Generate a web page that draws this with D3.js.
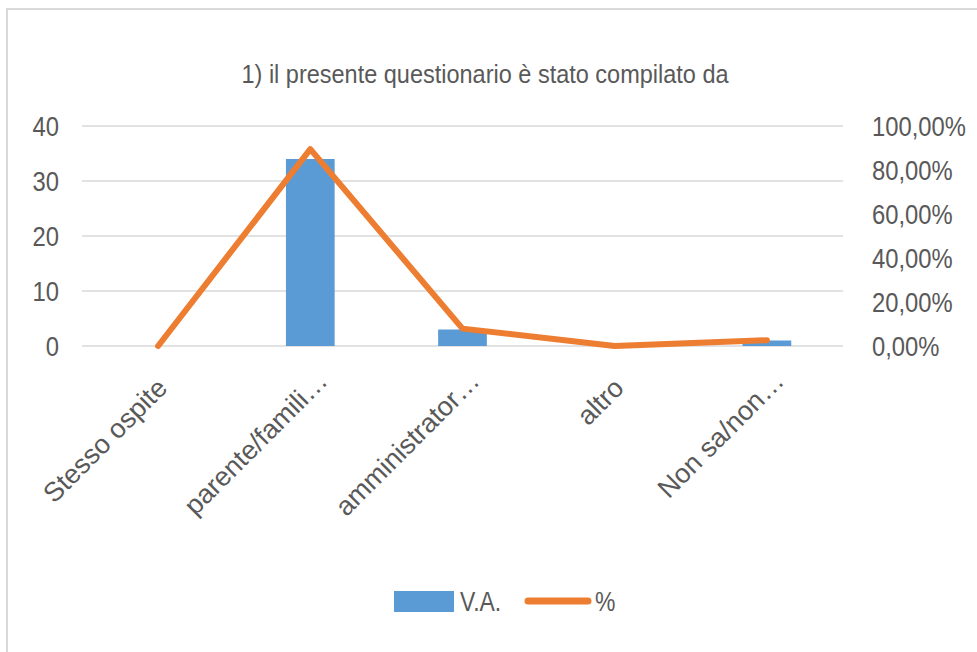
<!DOCTYPE html>
<html>
<head>
<meta charset="utf-8">
<script src="https://cdn.jsdelivr.net/npm/d3@7"></script>
<style>
  body { margin: 0; background: #fff; }
  svg text { font-family: "Liberation Sans", Arial, sans-serif; fill: #595959; }
</style>
</head>
<body>
<div id="chart"></div>
<script>
const categories = [`Stesso ospite`, `parente/famili…`, `amministrator…`, `altro`, `Non sa/non…`];
const vaValues = [0, 34, 3, 0, 1];
const pctValues = [0, 0.8947, 0.0789, 0, 0.0263];
const leftTicks = [0, 10, 20, 30, 40];
const rightTicks = [0, 0.2, 0.4, 0.6, 0.8, 1];
const title = `1) il presente questionario è stato compilato da`;

const width = 977;
const height = 652;
const plot = { left: 82, right: 843, top: 126, bottom: 346 };
const squeeze = 0.85; // the source font is condensed

const svg = d3
  .select(`#chart`)
  .append(`svg`)
  .attr(`width`, width)
  .attr(`height`, height);

// chart frame (runs past the window on right/bottom)
svg
  .append(`rect`)
  .attr(`x`, 7)
  .attr(`y`, 9)
  .attr(`width`, width + 20)
  .attr(`height`, height + 20)
  .attr(`fill`, `none`)
  .attr(`stroke`, `#D9D9D9`)
  .attr(`stroke-width`, 2);

svg
  .append(`text`)
  .attr(`transform`, `translate(485, 83) scale(0.94, 1)`)
  .attr(`text-anchor`, `middle`)
  .style(`font-size`, `25px`)
  .text(title);

const x = d3
  .scaleBand()
  .domain(categories)
  .range([plot.left, plot.right])
  .paddingInner(0.68)
  .paddingOuter(0.34);

const yLeft = d3.scaleLinear().domain([0, 40]).range([plot.bottom, plot.top]);
const yRight = d3.scaleLinear().domain([0, 1]).range([plot.bottom, plot.top]);

// gridlines
svg
  .append(`g`)
  .selectAll(`line`)
  .data(leftTicks)
  .enter()
  .append(`line`)
  .attr(`x1`, plot.left)
  .attr(`x2`, plot.right)
  .attr(`y1`, (d) => yLeft(d))
  .attr(`y2`, (d) => yLeft(d))
  .attr(`stroke`, `#D9D9D9`)
  .attr(`stroke-width`, 1.5);

// left axis
const leftAxis = svg
  .append(`g`)
  .attr(`transform`, `translate(${plot.left - 23}, 0)`)
  .call(d3.axisLeft(yLeft).tickValues(leftTicks).tickSize(0).tickPadding(0));
leftAxis.select(`.domain`).remove();
leftAxis
  .selectAll(`text`)
  .attr(`dy`, `0.35em`)
  .attr(`transform`, `scale(${squeeze}, 1)`)
  .style(`font-size`, `28px`)
  .attr(`fill`, `#595959`);

// right axis
const fmtPct = (d) => d3.format(`.2f`)(d * 100).replace(`.`, `,`) + `%`;
const rightAxis = svg
  .append(`g`)
  .attr(`transform`, `translate(${plot.right + 29}, 0)`)
  .call(
    d3.axisRight(yRight).tickValues(rightTicks).tickFormat(fmtPct).tickSize(0).tickPadding(0)
  );
rightAxis.select(`.domain`).remove();
rightAxis
  .selectAll(`text`)
  .attr(`dy`, `0.35em`)
  .attr(`transform`, `scale(${squeeze}, 1)`)
  .style(`font-size`, `28px`)
  .attr(`fill`, `#595959`);

// bars
svg
  .append(`g`)
  .selectAll(`rect`)
  .data(vaValues)
  .enter()
  .append(`rect`)
  .attr(`x`, (d, i) => x(categories[i]))
  .attr(`width`, x.bandwidth())
  .attr(`y`, (d) => yLeft(d))
  .attr(`height`, (d) => plot.bottom - yLeft(d))
  .attr(`fill`, `#5B9BD5`);

// percent line
const line = d3
  .line()
  .x((d, i) => x(categories[i]) + x.bandwidth() / 2)
  .y((d) => yRight(d));

svg
  .append(`path`)
  .datum(pctValues)
  .attr(`d`, line)
  .attr(`fill`, `none`)
  .attr(`stroke`, `#ED7D31`)
  .attr(`stroke-width`, 6)
  .attr(`stroke-linejoin`, `round`)
  .attr(`stroke-linecap`, `round`);

// category labels, rotated; truncated ones hang a bit further right
svg
  .append(`g`)
  .selectAll(`text`)
  .data(categories)
  .enter()
  .append(`text`)
  .attr(`transform`, (d) => {
    const cut = d.endsWith(`…`);
    const cx = x(d) + x.bandwidth() / 2 + (cut ? 12 : 4);
    const cy = cut ? 376 : 383;
    return `translate(${cx}, ${cy}) rotate(-45)`;
  })
  .attr(`text-anchor`, `end`)
  .attr(`dy`, `0.35em`)
  .style(`font-size`, `27px`)
  .text((d) => d);

// legend
const legend = svg.append(`g`);
legend
  .append(`rect`)
  .attr(`x`, 394)
  .attr(`y`, 591)
  .attr(`width`, 60)
  .attr(`height`, 21)
  .attr(`fill`, `#5B9BD5`);
legend
  .append(`text`)
  .attr(`transform`, `translate(460, 611) scale(${squeeze}, 1)`)
  .style(`font-size`, `27px`)
  .text(`V.A.`);
legend
  .append(`line`)
  .attr(`x1`, 528)
  .attr(`x2`, 588)
  .attr(`y1`, 601)
  .attr(`y2`, 601)
  .attr(`stroke`, `#ED7D31`)
  .attr(`stroke-width`, 7)
  .attr(`stroke-linecap`, `round`);
legend
  .append(`text`)
  .attr(`transform`, `translate(595, 611) scale(${squeeze}, 1)`)
  .style(`font-size`, `27px`)
  .text(`%`);
</script>
</body>
</html>
